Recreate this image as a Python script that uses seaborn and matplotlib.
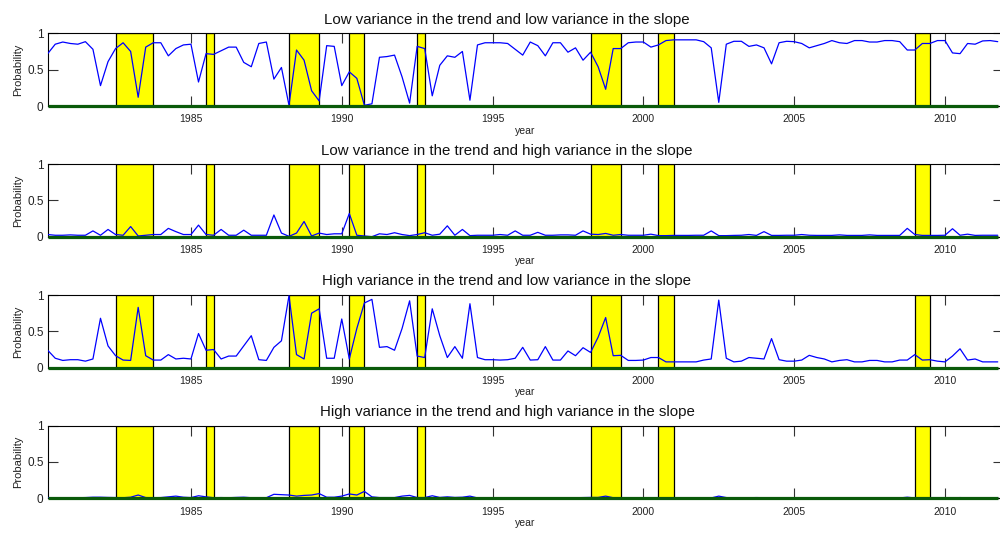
import numpy as np
import pandas as pd
import matplotlib
matplotlib.use("Agg")
import matplotlib.pyplot as plt
import seaborn as sns

# ---------------- data ----------------
start_year = 1980.25
n_quarters = 127

titles = [
    "Low variance in the trend and low variance in the slope",
    "Low variance in the trend and high variance in the slope",
    "High variance in the trend and low variance in the slope",
    "High variance in the trend and high variance in the slope",
]

prob_ll = [
    0.72, 0.85, 0.88, 0.86, 0.85, 0.885, 0.78, 0.28, 0.61, 0.79,
    0.87, 0.75, 0.12, 0.81, 0.87, 0.87, 0.69, 0.79, 0.84, 0.85,
    0.33, 0.72, 0.71, 0.76, 0.81, 0.81, 0.60, 0.54, 0.86, 0.88,
    0.37, 0.53, 0.01, 0.77, 0.63, 0.21, 0.07, 0.83, 0.82, 0.28,
    0.47, 0.38, 0.01, 0.03, 0.67, 0.68, 0.70, 0.40, 0.04, 0.82,
    0.79, 0.14, 0.56, 0.69, 0.67, 0.75, 0.08, 0.84, 0.87, 0.87,
    0.87, 0.86, 0.78, 0.70, 0.88, 0.83, 0.69, 0.87, 0.87, 0.74,
    0.80, 0.63, 0.74, 0.54, 0.23, 0.79, 0.79, 0.87, 0.88, 0.88,
    0.81, 0.84, 0.90, 0.91, 0.91, 0.91, 0.91, 0.885, 0.80, 0.05,
    0.85, 0.89, 0.89, 0.82, 0.84, 0.80, 0.58, 0.87, 0.89, 0.885,
    0.86, 0.80, 0.83, 0.86, 0.90, 0.87, 0.86, 0.90, 0.90, 0.88,
    0.88, 0.90, 0.90, 0.885, 0.77, 0.77, 0.86, 0.86, 0.90, 0.90,
    0.73, 0.72, 0.86, 0.85, 0.895, 0.90, 0.885,
]

prob_lh = [
    0.03, 0.02, 0.02, 0.025, 0.02, 0.02, 0.08, 0.02, 0.10, 0.03,
    0.02, 0.14, 0.01, 0.02, 0.03, 0.03, 0.115, 0.07, 0.03, 0.03,
    0.16, 0.03, 0.02, 0.10, 0.02, 0.02, 0.09, 0.02, 0.02, 0.02,
    0.30, 0.05, 0.005, 0.05, 0.21, 0.01, 0.05, 0.03, 0.04, 0.04,
    0.32, 0.02, 0.01, 0.0, 0.04, 0.03, 0.055, 0.03, 0.015, 0.03,
    0.055, 0.02, 0.035, 0.15, 0.02, 0.10, 0.015, 0.02, 0.02, 0.02,
    0.03, 0.02, 0.08, 0.02, 0.02, 0.06, 0.02, 0.02, 0.025, 0.025,
    0.02, 0.08, 0.035, 0.03, 0.045, 0.02, 0.03, 0.02, 0.02, 0.02,
    0.035, 0.015, 0.015, 0.018, 0.018, 0.018, 0.02, 0.02, 0.08, 0.015,
    0.015, 0.018, 0.02, 0.03, 0.018, 0.07, 0.018, 0.018, 0.02, 0.02,
    0.03, 0.02, 0.018, 0.018, 0.018, 0.025, 0.018, 0.018, 0.018, 0.025,
    0.018, 0.018, 0.018, 0.018, 0.115, 0.03, 0.018, 0.018, 0.018, 0.02,
    0.11, 0.02, 0.035, 0.018, 0.02, 0.02, 0.02,
]

prob_hl = [
    0.24, 0.13, 0.10, 0.11, 0.11, 0.09, 0.12, 0.68, 0.30, 0.165,
    0.105, 0.10, 0.83, 0.165, 0.105, 0.105, 0.18, 0.12, 0.13, 0.12,
    0.47, 0.24, 0.25, 0.12, 0.16, 0.16, 0.30, 0.44, 0.11, 0.10,
    0.28, 0.37, 0.99, 0.18, 0.12, 0.75, 0.81, 0.13, 0.13, 0.67,
    0.12, 0.54, 0.89, 0.94, 0.28, 0.29, 0.24, 0.54, 0.92, 0.16,
    0.14, 0.81, 0.44, 0.14, 0.29, 0.13, 0.88, 0.14, 0.11, 0.11,
    0.105, 0.11, 0.13, 0.28, 0.105, 0.11, 0.29, 0.105, 0.105, 0.23,
    0.165, 0.275, 0.21, 0.42, 0.69, 0.165, 0.17, 0.10, 0.10, 0.105,
    0.14, 0.14, 0.08, 0.08, 0.08, 0.08, 0.08, 0.105, 0.12, 0.93,
    0.13, 0.08, 0.09, 0.14, 0.13, 0.12, 0.40, 0.11, 0.09, 0.09,
    0.105, 0.17, 0.14, 0.12, 0.08, 0.10, 0.11, 0.08, 0.08, 0.10,
    0.10, 0.08, 0.08, 0.105, 0.105, 0.18, 0.105, 0.11, 0.09, 0.08,
    0.16, 0.26, 0.105, 0.12, 0.08, 0.08, 0.08,
]

prob_hh = [
    0.01, 0.008, 0.008, 0.008, 0.008, 0.01, 0.015, 0.015, 0.012, 0.01,
    0.008, 0.015, 0.045, 0.01, 0.008, 0.01, 0.02, 0.03, 0.015, 0.01,
    0.035, 0.02, 0.008, 0.01, 0.008, 0.012, 0.015, 0.008, 0.008, 0.008,
    0.055, 0.05, 0.045, 0.03, 0.04, 0.045, 0.065, 0.015, 0.015, 0.03,
    0.06, 0.045, 0.095, 0.02, 0.01, 0.01, 0.01, 0.03, 0.04, 0.01,
    0.01, 0.035, 0.012, 0.02, 0.012, 0.015, 0.03, 0.005, 0.005, 0.005,
    0.005, 0.005, 0.008, 0.005, 0.005, 0.008, 0.005, 0.005, 0.005, 0.008,
    0.008, 0.01, 0.012, 0.012, 0.03, 0.008, 0.005, 0.005, 0.005, 0.005,
    0.005, 0.005, 0.005, 0.005, 0.005, 0.005, 0.005, 0.005, 0.005, 0.03,
    0.01, 0.005, 0.005, 0.008, 0.01, 0.008, 0.008, 0.005, 0.005, 0.005,
    0.005, 0.005, 0.005, 0.005, 0.005, 0.005, 0.005, 0.005, 0.005, 0.005,
    0.005, 0.005, 0.005, 0.005, 0.015, 0.005, 0.005, 0.005, 0.005, 0.005,
    0.005, 0.01, 0.005, 0.005, 0.005, 0.005, 0.005,
]

recession_starts = [1982.5, 1985.5, 1988.25, 1990.25, 1992.5, 1998.25, 2000.5, 2009.0]
recession_ends = [1983.75, 1985.75, 1989.25, 1990.75, 1992.75, 1999.25, 2001.0, 2009.5]

xtick_years = [1985, 1990, 1995, 2000, 2005, 2010]
ytick_vals = [0, 0.5, 1]
ytick_labels = ["0", "0.5", "1"]

# ---------------- plot ----------------
sns.set_theme(style="white")
plt.rcParams["font.family"] = ["Liberation Sans", "DejaVu Sans"]

years = start_year + 0.25 * np.arange(n_quarters)
series = [prob_ll, prob_lh, prob_hl, prob_hh]

fig = plt.figure(figsize=(10, 5.33), dpi=100)
W, H = 1000.0, 533.0
left_px, right_px = 47.7, 1002.5
panel_bounds = [(33.3, 106.0), (164.3, 236.7), (295.0, 367.7), (425.7, 498.3)]

for k, (top, bot) in enumerate(panel_bounds):
    ax = fig.add_axes([left_px / W, 1 - bot / H, (right_px - left_px) / W, (bot - top) / H])
    ax.set_xlim(start_year, start_year + (right_px - left_px) / 30.16)
    ax.set_ylim(0, 1)

    for s, e in zip(recession_starts, recession_ends):
        ax.axvspan(s, e, ymin=0, ymax=1, facecolor="#ffff00", edgecolor="black",
                   linewidth=0.9, zorder=1)

    df = pd.DataFrame({"year": years, "prob": series[k]})
    sns.lineplot(data=df, x="year", y="prob", ax=ax, color="#0000ff",
                 linewidth=0.9, zorder=3)
    ax.plot(years, np.zeros_like(years), color="#0a5a0a", linewidth=2.3,
            zorder=4, clip_on=False, solid_capstyle="butt")

    ax.set_xticks(xtick_years)
    ax.set_xticklabels([str(y) for y in xtick_years], fontsize=7.5, color="#222222")
    ax.set_yticks(ytick_vals)
    ax.set_yticklabels(ytick_labels, fontsize=8.5, color="#222222")
    ax.tick_params(axis="both", direction="in", length=7, width=0.8,
                   color="#333333", top=True, right=True, bottom=True, left=True)
    ax.tick_params(axis="x", pad=6)
    ax.tick_params(axis="y", pad=3)

    for sp in ax.spines.values():
        sp.set_color("black")
        sp.set_linewidth(0.8)
        sp.set_zorder(2)

    ax.set_xlabel("year", fontsize=7.5, labelpad=1, color="#222222")
    ax.set_ylabel("Probability", fontsize=8, labelpad=3, color="#222222")
    ax.set_title(titles[k], fontsize=10.8, x=(507 - left_px) / (right_px - left_px),
                 pad=7, color="#111111")

fig.savefig("out.png", dpi=100)
